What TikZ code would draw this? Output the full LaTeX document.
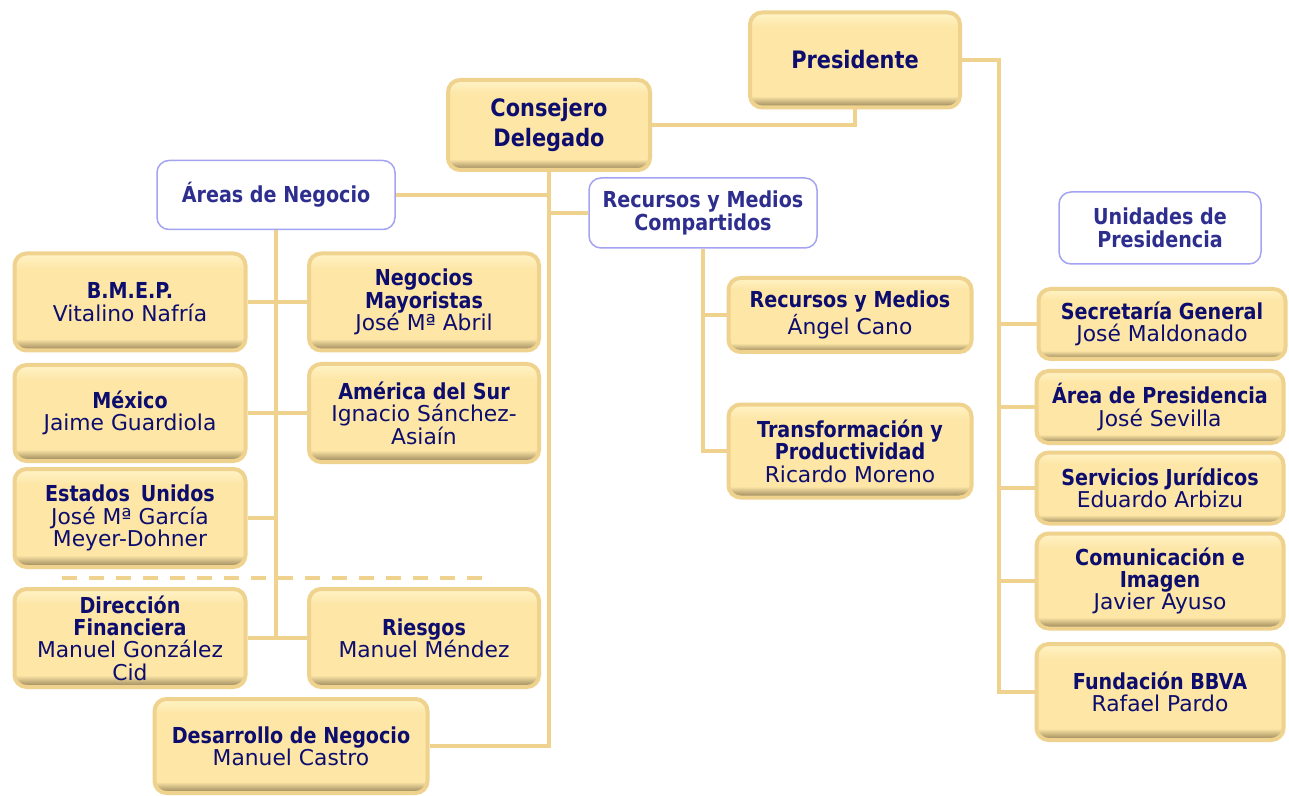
\documentclass[tikz,border=0pt]{standalone}
\usepackage{fontspec}
\setmainfont{DejaVu Sans}
\newfontfamily\titfont[FakeStretch=0.87]{DejaVu Sans}
\usetikzlibrary{backgrounds}
\definecolor{linec}{HTML}{EFD28E}
\definecolor{boxtop}{HTML}{FFF3C6}
\definecolor{boxmid}{HTML}{FDE6A6}
\definecolor{boxdark}{HTML}{8E7B52}
\definecolor{inkc}{HTML}{0D0D6E}
\definecolor{headc}{HTML}{2E2E8E}
\definecolor{framec}{HTML}{A3A3F2}
\pgfdeclareverticalshading{boxfill}{100bp}{color(0bp)=(boxdark); color(25bp)=(boxdark); color(26bp)=(boxdark!80!boxmid); color(31bp)=(boxmid); color(67bp)=(boxmid); color(75bp)=(boxtop); color(100bp)=(boxtop)}
\begin{document}
\begin{tikzpicture}[x=0.5pt, y=-0.5pt, font=\fontsize{10.9}{11.2}\selectfont,
	box/.style={draw=linec, line width=2pt, rounded corners=6pt, shade, shading=boxfill, text=inkc, align=center, inner sep=0pt},
	head/.style={draw=framec, line width=0.75pt, rounded corners=6pt, fill=white, text=headc, align=center, inner sep=0pt},
	link/.style={draw=linec, line width=2pt}]
		\def\tit#1{{\titfont\bfseries\fontsize{11}{11.2}\selectfont #1}}
		\def\big#1{{\titfont\bfseries\fontsize{12}{14}\selectfont #1}}
		\useasboundingbox (0,0) rectangle (1289,796);
		% cabecera
		\node[box, minimum width=105pt, minimum height=47.5pt] (pres) at (855,60) {\big{Presidente}};
		\node[box, minimum width=101pt, minimum height=45pt] (cons) at (549,125) {\big{Consejero}\\[2pt]\big{Delegado}};
		\node[head, minimum width=119pt, minimum height=34.5pt] (areas) at (276,195) {\tit{Áreas de Negocio}};
		\node[head, minimum width=114pt, minimum height=35pt] (rmc) at (703,213) {\tit{Recursos y Medios}\\\tit{Compartidos}};
		\node[head, minimum width=101pt, minimum height=36pt] (unid) at (1160,228) {\tit{Unidades de}\\\tit{Presidencia}};
		% areas de negocio
		\node[box, minimum width=115.5pt, minimum height=48.5pt] (bmep) at (130,302) {\tit{B.M.E.P.}\\Vitalino Nafría};
		\node[box, minimum width=115pt, minimum height=48.5pt] (negm) at (424,302) {\tit{Negocios}\\\tit{Mayoristas}\\José Mª Abril};
		\node[box, minimum width=115.5pt, minimum height=48pt] (mexi) at (130,413) {\tit{México}\\Jaime Guardiola};
		\node[box, minimum width=115pt, minimum height=49pt] (amer) at (424,413) {\tit{América del Sur}\\Ignacio Sánchez-\\Asiaín};
		\node[box, minimum width=115.5pt, minimum height=49pt] (eeuu) at (130,518) {\tit{Estados\enspace Unidos}\\José Mª García\\Meyer-Dohner};
		\node[box, minimum width=115.5pt, minimum height=49pt] (dirf) at (130,638) {\tit{Dirección}\\\tit{Financiera}\\Manuel González\\Cid};
		\node[box, minimum width=115pt, minimum height=49pt] (ries) at (424,638) {\tit{Riesgos}\\Manuel Méndez};
		\node[box, minimum width=136.5pt, minimum height=47pt] (desa) at (291,746) {\tit{Desarrollo de Negocio}\\Manuel Castro};
		% recursos y medios
		\node[box, minimum width=121.5pt, minimum height=37pt] (ryme) at (850,315) {\tit{Recursos y Medios}\\Ángel Cano};
		\node[box, minimum width=121.5pt, minimum height=46.5pt] (tran) at (850,451) {\tit{Transformación y}\\\tit{Productividad}\\Ricardo Moreno};
		% unidades de presidencia
		\node[box, minimum width=123.5pt, minimum height=35pt] (secr) at (1162,324) {\tit{Secretaría General}\\José Maldonado};
		\node[box, minimum width=123.5pt, minimum height=36pt] (arpr) at (1160,407) {\tit{Área de Presidencia}\\José Sevilla};
		\node[box, minimum width=123.5pt, minimum height=35.5pt] (serv) at (1160,488) {\tit{Servicios Jurídicos}\\Eduardo Arbizu};
		\node[box, minimum width=123.5pt, minimum height=47.5pt] (comu) at (1160,581) {\tit{Comunicación e}\\\tit{Imagen}\\Javier Ayuso};
		\node[box, minimum width=123.5pt, minimum height=48pt] (fund) at (1160,692) {\tit{Fundación BBVA}\\Rafael Pardo};
		\coordinate (pbus) at (999,60);
		\begin{scope}[on background layer]
		\draw[link] (pres.south) |- (cons.east);
		\draw[link] (pres.east) -- (pbus) |- (fund.west);
		\foreach \u in {secr,arpr,serv,comu}
		\draw[link] (\u.west) -- (pbus |- \u.west);
		\draw[link] (cons.south) |- (desa.east);
		\draw[link] (areas.east) -- (cons.south |- areas.east)
		(rmc.west) -- (cons.south |- rmc.west);
		\draw[link] (areas.south) -- (areas.south |- dirf.east);
		\draw[link] (bmep.east) -- (negm.west)
		(mexi.east) -- (amer.west)
		(eeuu.east) -- (areas.south |- eeuu.east)
		(dirf.east) -- (ries.west);
		\draw[link] (rmc.south) |- (tran.west);
		\draw[link] (ryme.west) -- (rmc.south |- ryme.west);
		\end{scope}
		\draw[linec, line width=2pt, dash pattern=on 7.5pt off 6pt] (62,578) -- (482,578);
\end{tikzpicture}
\end{document}
